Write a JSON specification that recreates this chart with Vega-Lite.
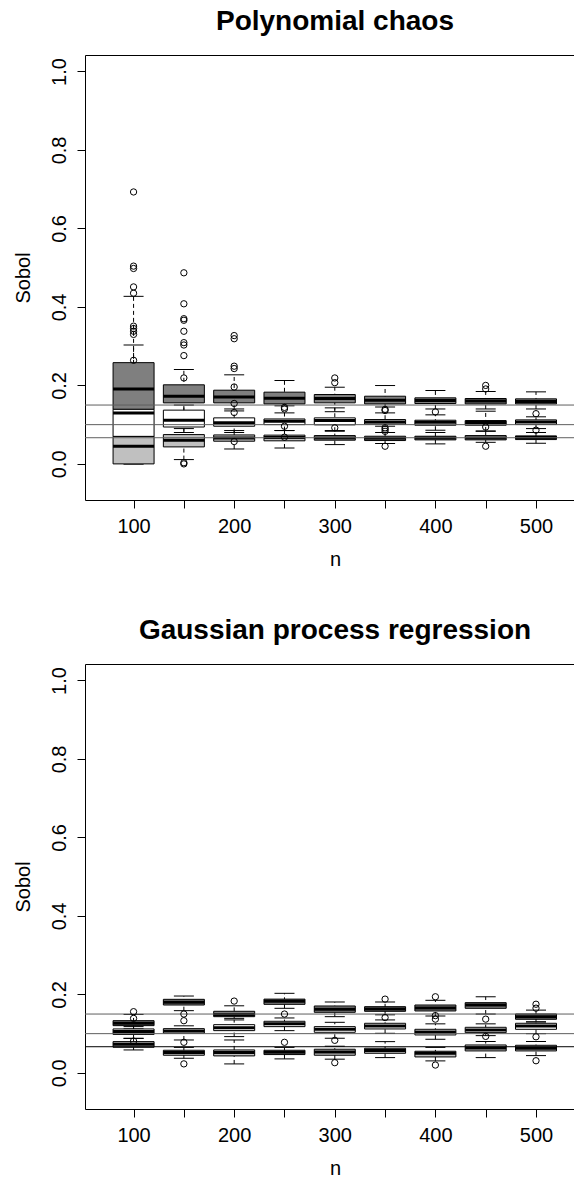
{
  "$schema": "https://vega.github.io/schema/vega-lite/v6.json",
  "padding": {"left": 13, "top": 8, "right": 0, "bottom": 0},
  "config": {
    "font": "Liberation Sans",
    "view": {"stroke": null},
    "axisY": {
      "format": ".1f",
      "labelAngle": 270,
      "labelAlign": "center",
      "labelBaseline": "alphabetic",
      "labelPadding": 12,
      "labelFontSize": 20,
      "labelColor": "black",
      "tickColor": "black",
      "tickSize": 8,
      "domainColor": "black",
      "grid": false,
      "titleFontSize": 20,
      "titleFontWeight": "normal",
      "titleColor": "black",
      "titleAngle": 270,
      "titleX": -62,
      "titleY": 222.5,
      "titleAlign": "center",
      "titleBaseline": "middle"
    },
    "axisX": {
      "labelFontSize": 20,
      "labelPadding": 8,
      "labelColor": "black",
      "labelFlush": false,
      "labelOverlap": false,
      "tickSize": 8,
      "tickColor": "black",
      "domainColor": "black",
      "grid": false,
      "titleFontSize": 20,
      "titleFontWeight": "normal",
      "titleColor": "black",
      "titleX": 250,
      "titleY": 65,
      "titleAlign": "center",
      "titleBaseline": "alphabetic"
    }
  },
  "datasets": {
    "ref": [
      {"g": "S1", "v": 0.15},
      {"g": "S2", "v": 0.1},
      {"g": "S3", "v": 0.0667}
    ],
    "pc_box": [
      {"n": 100, "g": "S1", "lo": 0.13, "q1": 0.139, "med": 0.191, "q3": 0.258, "hi": 0.427},
      {"n": 100, "g": "S2", "lo": 0.0, "q1": 0.07, "med": 0.13, "q3": 0.139, "hi": 0.303},
      {"n": 100, "g": "S3", "lo": 0.0, "q1": 0.0, "med": 0.045, "q3": 0.07, "hi": 0.07},
      {"n": 150, "g": "S1", "lo": 0.12, "q1": 0.1555, "med": 0.1725, "q3": 0.2015, "hi": 0.2406},
      {"n": 150, "g": "S2", "lo": 0.08, "q1": 0.094, "med": 0.111, "q3": 0.137, "hi": 0.15},
      {"n": 150, "g": "S3", "lo": 0.011, "q1": 0.0433, "med": 0.0604, "q3": 0.0747, "hi": 0.09},
      {"n": 200, "g": "S1", "lo": 0.14, "q1": 0.1555, "med": 0.1707, "q3": 0.1878, "hi": 0.227},
      {"n": 200, "g": "S2", "lo": 0.08, "q1": 0.096, "med": 0.1046, "q3": 0.1173, "hi": 0.135},
      {"n": 200, "g": "S3", "lo": 0.038, "q1": 0.0578, "med": 0.0663, "q3": 0.0738, "hi": 0.085},
      {"n": 250, "g": "S1", "lo": 0.148, "q1": 0.1529, "med": 0.1674, "q3": 0.1828, "hi": 0.2125},
      {"n": 250, "g": "S2", "lo": 0.085, "q1": 0.1001, "med": 0.1086, "q3": 0.1145, "hi": 0.13},
      {"n": 250, "g": "S3", "lo": 0.0405, "q1": 0.0588, "med": 0.0673, "q3": 0.0733, "hi": 0.085},
      {"n": 300, "g": "S1", "lo": 0.133, "q1": 0.1556, "med": 0.1666, "q3": 0.1768, "hi": 0.1954},
      {"n": 300, "g": "S2", "lo": 0.0832, "q1": 0.0995, "med": 0.1105, "q3": 0.1173, "hi": 0.1428},
      {"n": 300, "g": "S3", "lo": 0.0492, "q1": 0.0604, "med": 0.0663, "q3": 0.0722, "hi": 0.085},
      {"n": 350, "g": "S1", "lo": 0.145, "q1": 0.1529, "med": 0.1623, "q3": 0.1725, "hi": 0.1997},
      {"n": 350, "g": "S2", "lo": 0.096, "q1": 0.1012, "med": 0.107, "q3": 0.113, "hi": 0.13},
      {"n": 350, "g": "S3", "lo": 0.052, "q1": 0.0595, "med": 0.0654, "q3": 0.0705, "hi": 0.08},
      {"n": 400, "g": "S1", "lo": 0.14, "q1": 0.1538, "med": 0.1615, "q3": 0.1683, "hi": 0.187},
      {"n": 400, "g": "S2", "lo": 0.0858, "q1": 0.0985, "med": 0.1062, "q3": 0.1113, "hi": 0.125},
      {"n": 400, "g": "S3", "lo": 0.051, "q1": 0.0612, "med": 0.0663, "q3": 0.0705, "hi": 0.08},
      {"n": 450, "g": "S1", "lo": 0.14, "q1": 0.1529, "med": 0.1606, "q3": 0.1666, "hi": 0.1845},
      {"n": 450, "g": "S2", "lo": 0.084, "q1": 0.0985, "med": 0.1054, "q3": 0.1105, "hi": 0.1343},
      {"n": 450, "g": "S3", "lo": 0.055, "q1": 0.0612, "med": 0.0663, "q3": 0.0722, "hi": 0.083},
      {"n": 500, "g": "S1", "lo": 0.14, "q1": 0.1529, "med": 0.159, "q3": 0.1657, "hi": 0.1836},
      {"n": 500, "g": "S2", "lo": 0.09, "q1": 0.1003, "med": 0.107, "q3": 0.1122, "hi": 0.12},
      {"n": 500, "g": "S3", "lo": 0.0526, "q1": 0.062, "med": 0.0671, "q3": 0.0714, "hi": 0.08}
    ],
    "pc_out": [
      {"n": 100, "v": 0.693}, {"n": 100, "v": 0.504}, {"n": 100, "v": 0.498}, {"n": 100, "v": 0.451}, {"n": 100, "v": 0.435},
      {"n": 100, "v": 0.351}, {"n": 100, "v": 0.345}, {"n": 100, "v": 0.338}, {"n": 100, "v": 0.33}, {"n": 100, "v": 0.264},
      {"n": 150, "v": 0.487}, {"n": 150, "v": 0.408}, {"n": 150, "v": 0.37}, {"n": 150, "v": 0.366}, {"n": 150, "v": 0.338},
      {"n": 150, "v": 0.309}, {"n": 150, "v": 0.303}, {"n": 150, "v": 0.276}, {"n": 150, "v": 0.219}, {"n": 150, "v": 0.003}, {"n": 150, "v": 0.0},
      {"n": 200, "v": 0.327}, {"n": 200, "v": 0.319}, {"n": 200, "v": 0.249}, {"n": 200, "v": 0.243}, {"n": 200, "v": 0.196},
      {"n": 200, "v": 0.154}, {"n": 200, "v": 0.131}, {"n": 200, "v": 0.057},
      {"n": 250, "v": 0.144}, {"n": 250, "v": 0.14}, {"n": 250, "v": 0.096}, {"n": 250, "v": 0.068},
      {"n": 300, "v": 0.219}, {"n": 300, "v": 0.207}, {"n": 300, "v": 0.092},
      {"n": 350, "v": 0.139}, {"n": 350, "v": 0.136}, {"n": 350, "v": 0.092}, {"n": 350, "v": 0.088}, {"n": 350, "v": 0.083}, {"n": 350, "v": 0.045},
      {"n": 400, "v": 0.1325},
      {"n": 450, "v": 0.2}, {"n": 450, "v": 0.191}, {"n": 450, "v": 0.094}, {"n": 450, "v": 0.045},
      {"n": 500, "v": 0.128}, {"n": 500, "v": 0.086}
    ],
    "gp_box": [
      {"n": 100, "g": "S1", "lo": 0.112, "q1": 0.1204, "med": 0.1264, "q3": 0.1331, "hi": 0.149},
      {"n": 100, "g": "S2", "lo": 0.088, "q1": 0.098, "med": 0.1052, "q3": 0.112, "hi": 0.118},
      {"n": 100, "g": "S3", "lo": 0.0585, "q1": 0.0653, "med": 0.0729, "q3": 0.0797, "hi": 0.088},
      {"n": 150, "g": "S1", "lo": 0.1586, "q1": 0.173, "med": 0.18, "q3": 0.1875, "hi": 0.1959},
      {"n": 150, "g": "S2", "lo": 0.0839, "q1": 0.101, "med": 0.107, "q3": 0.1128, "hi": 0.12},
      {"n": 150, "g": "S3", "lo": 0.0373, "q1": 0.045, "med": 0.0517, "q3": 0.0577, "hi": 0.065},
      {"n": 200, "g": "S1", "lo": 0.139, "q1": 0.1433, "med": 0.149, "q3": 0.157, "hi": 0.171},
      {"n": 200, "g": "S2", "lo": 0.0925, "q1": 0.1077, "med": 0.1153, "q3": 0.1229, "hi": 0.135},
      {"n": 200, "g": "S3", "lo": 0.0229, "q1": 0.0433, "med": 0.0517, "q3": 0.0585, "hi": 0.0839},
      {"n": 250, "g": "S1", "lo": 0.1646, "q1": 0.1747, "med": 0.1824, "q3": 0.188, "hi": 0.2028},
      {"n": 250, "g": "S2", "lo": 0.1077, "q1": 0.1179, "med": 0.1255, "q3": 0.1315, "hi": 0.14},
      {"n": 250, "g": "S3", "lo": 0.0357, "q1": 0.0467, "med": 0.0526, "q3": 0.0577, "hi": 0.065},
      {"n": 300, "g": "S1", "lo": 0.1433, "q1": 0.1544, "med": 0.162, "q3": 0.1705, "hi": 0.1807},
      {"n": 300, "g": "S2", "lo": 0.0883, "q1": 0.1035, "med": 0.1111, "q3": 0.1179, "hi": 0.1289},
      {"n": 300, "g": "S3", "lo": 0.035, "q1": 0.045, "med": 0.0535, "q3": 0.0603, "hi": 0.068},
      {"n": 350, "g": "S1", "lo": 0.148, "q1": 0.1569, "med": 0.1628, "q3": 0.1688, "hi": 0.1807},
      {"n": 350, "g": "S2", "lo": 0.1009, "q1": 0.112, "med": 0.1196, "q3": 0.1264, "hi": 0.135},
      {"n": 350, "g": "S3", "lo": 0.039, "q1": 0.05, "med": 0.0569, "q3": 0.0628, "hi": 0.0797},
      {"n": 400, "g": "S1", "lo": 0.145, "q1": 0.1578, "med": 0.1654, "q3": 0.173, "hi": 0.185},
      {"n": 400, "g": "S2", "lo": 0.0857, "q1": 0.0967, "med": 0.1043, "q3": 0.1111, "hi": 0.125},
      {"n": 400, "g": "S3", "lo": 0.0306, "q1": 0.0407, "med": 0.0501, "q3": 0.0552, "hi": 0.065},
      {"n": 450, "g": "S1", "lo": 0.15, "q1": 0.1646, "med": 0.173, "q3": 0.179, "hi": 0.194},
      {"n": 450, "g": "S2", "lo": 0.095, "q1": 0.1026, "med": 0.1094, "q3": 0.1162, "hi": 0.125},
      {"n": 450, "g": "S3", "lo": 0.039, "q1": 0.056, "med": 0.0636, "q3": 0.0712, "hi": 0.08},
      {"n": 500, "g": "S1", "lo": 0.13, "q1": 0.1366, "med": 0.1434, "q3": 0.1501, "hi": 0.16},
      {"n": 500, "g": "S2", "lo": 0.1, "q1": 0.1111, "med": 0.1196, "q3": 0.1264, "hi": 0.13},
      {"n": 500, "g": "S3", "lo": 0.0441, "q1": 0.056, "med": 0.0628, "q3": 0.0704, "hi": 0.08}
    ],
    "gp_out": [
      {"n": 100, "v": 0.156}, {"n": 100, "v": 0.139}, {"n": 100, "v": 0.081},
      {"n": 150, "v": 0.15}, {"n": 150, "v": 0.133}, {"n": 150, "v": 0.078}, {"n": 150, "v": 0.023},
      {"n": 200, "v": 0.183},
      {"n": 250, "v": 0.15}, {"n": 250, "v": 0.078},
      {"n": 300, "v": 0.083}, {"n": 300, "v": 0.026},
      {"n": 350, "v": 0.188}, {"n": 350, "v": 0.141},
      {"n": 400, "v": 0.194}, {"n": 400, "v": 0.146}, {"n": 400, "v": 0.137}, {"n": 400, "v": 0.02},
      {"n": 450, "v": 0.137}, {"n": 450, "v": 0.093},
      {"n": 500, "v": 0.175}, {"n": 500, "v": 0.165}, {"n": 500, "v": 0.092}, {"n": 500, "v": 0.031}
    ]
  },
  "spacing": 48,
  "resolve": {"scale": {"stroke": "independent", "fill": "independent"}},
  "vconcat": [
    {
      "title": {"text": "Polynomial chaos", "fontSize": 28, "fontWeight": "bold", "color": "black", "baseline": "alphabetic", "offset": -3, "dx": 5.5, "anchor": "middle"},
      "width": 489,
      "height": 445,
      "resolve": {"axis": {"x": "independent"}},
      "layer": [
        {
          "data": {"name": "pc_box"},
          "mark": {"type": "rule", "color": "black", "strokeWidth": 1, "strokeDash": [4, 3]},
          "encoding": {
            "x": {"field": "n", "type": "quantitative", "scale": {"domain": [56.7, 532.8], "nice": false, "zero": false}, "axis": {"orient": "bottom", "values": [100, 150, 200, 250, 300, 350, 400, 450, 500], "labelExpr": "datum.value % 100 === 0 ? datum.label : ''", "format": "d", "title": "n"}},
            "y": {"field": "lo", "type": "quantitative", "scale": {"domain": [-0.092, 1.042], "nice": false, "zero": false}, "title": "Sobol", "axis": {"values": [0, 0.2, 0.4, 0.6, 0.8, 1.0]}},
            "y2": {"field": "hi"}
          }
        },
        {
          "data": {"name": "pc_box"},
          "mark": {"type": "tick", "orient": "horizontal", "size": 20, "thickness": 1, "color": "black", "opacity": 1},
          "encoding": {
            "x": {"field": "n", "type": "quantitative", "axis": null},
            "y": {"field": "lo", "type": "quantitative", "scale": {"domain": [-0.092, 1.042], "nice": false, "zero": false}, "title": "Sobol", "axis": {"values": [0, 0.2, 0.4, 0.6, 0.8, 1.0]}}
          }
        },
        {
          "data": {"name": "pc_box"},
          "mark": {"type": "tick", "orient": "horizontal", "size": 20, "thickness": 1, "color": "black", "opacity": 1},
          "encoding": {
            "x": {"field": "n", "type": "quantitative", "axis": null},
            "y": {"field": "hi", "type": "quantitative", "scale": {"domain": [-0.092, 1.042], "nice": false, "zero": false}, "title": "Sobol", "axis": {"values": [0, 0.2, 0.4, 0.6, 0.8, 1.0]}}
          }
        },
        {
          "data": {"name": "pc_box"},
          "mark": {"type": "bar", "size": 41, "stroke": "black", "strokeWidth": 1, "opacity": 1},
          "encoding": {
            "x": {"field": "n", "type": "quantitative", "axis": null},
            "y": {"field": "q1", "type": "quantitative", "scale": {"domain": [-0.092, 1.042], "nice": false, "zero": false}, "title": "Sobol", "axis": {"values": [0, 0.2, 0.4, 0.6, 0.8, 1.0]}},
            "y2": {"field": "q3"},
            "fill": {"field": "g", "type": "nominal", "scale": {"domain": ["S1", "S2", "S3"], "range": ["#7f7f7f", "#ffffff", "#c0c0c0"]}, "legend": null}
          }
        },
        {
          "data": {"name": "pc_box"},
          "mark": {"type": "tick", "orient": "horizontal", "size": 41, "thickness": 3, "color": "black", "opacity": 1},
          "encoding": {
            "x": {"field": "n", "type": "quantitative", "axis": null},
            "y": {"field": "med", "type": "quantitative", "scale": {"domain": [-0.092, 1.042], "nice": false, "zero": false}, "title": "Sobol", "axis": {"values": [0, 0.2, 0.4, 0.6, 0.8, 1.0]}}
          }
        },
        {
          "data": {"name": "ref"},
          "mark": {"type": "rule", "strokeWidth": 1},
          "encoding": {
            "y": {"field": "v", "type": "quantitative", "scale": {"domain": [-0.092, 1.042], "nice": false, "zero": false}, "title": "Sobol", "axis": {"values": [0, 0.2, 0.4, 0.6, 0.8, 1.0]}},
            "stroke": {"field": "g", "type": "nominal", "scale": {"domain": ["S1", "S2", "S3"], "range": ["#5f5f5f", "#5f5f5f", "#5f5f5f"]}, "legend": null}
          }
        },
        {
          "data": {"name": "pc_out"},
          "mark": {"type": "point", "shape": "circle", "filled": false, "size": 40, "color": "black", "strokeWidth": 1, "opacity": 1},
          "encoding": {
            "x": {"field": "n", "type": "quantitative", "axis": {"orient": "top", "labels": false, "ticks": false, "title": null, "domain": true, "minExtent": 0, "maxExtent": 0, "offset": 0}},
            "y": {"field": "v", "type": "quantitative", "scale": {"domain": [-0.092, 1.042], "nice": false, "zero": false}, "title": "Sobol", "axis": {"values": [0, 0.2, 0.4, 0.6, 0.8, 1.0]}}
          }
        }
      ]
    },
    {
      "title": {"text": "Gaussian process regression", "fontSize": 28, "fontWeight": "bold", "color": "black", "baseline": "alphabetic", "offset": -3, "dx": 5.5, "anchor": "middle"},
      "width": 489,
      "height": 445,
      "resolve": {"axis": {"x": "independent"}},
      "layer": [
        {
          "data": {"name": "gp_box"},
          "mark": {"type": "rule", "color": "black", "strokeWidth": 1, "strokeDash": [4, 3]},
          "encoding": {
            "x": {"field": "n", "type": "quantitative", "scale": {"domain": [56.7, 532.8], "nice": false, "zero": false}, "axis": {"orient": "bottom", "values": [100, 150, 200, 250, 300, 350, 400, 450, 500], "labelExpr": "datum.value % 100 === 0 ? datum.label : ''", "format": "d", "title": "n"}},
            "y": {"field": "lo", "type": "quantitative", "scale": {"domain": [-0.092, 1.042], "nice": false, "zero": false}, "title": "Sobol", "axis": {"values": [0, 0.2, 0.4, 0.6, 0.8, 1.0]}},
            "y2": {"field": "hi"}
          }
        },
        {
          "data": {"name": "gp_box"},
          "mark": {"type": "tick", "orient": "horizontal", "size": 20, "thickness": 1, "color": "black", "opacity": 1},
          "encoding": {
            "x": {"field": "n", "type": "quantitative", "axis": null},
            "y": {"field": "lo", "type": "quantitative", "scale": {"domain": [-0.092, 1.042], "nice": false, "zero": false}, "title": "Sobol", "axis": {"values": [0, 0.2, 0.4, 0.6, 0.8, 1.0]}}
          }
        },
        {
          "data": {"name": "gp_box"},
          "mark": {"type": "tick", "orient": "horizontal", "size": 20, "thickness": 1, "color": "black", "opacity": 1},
          "encoding": {
            "x": {"field": "n", "type": "quantitative", "axis": null},
            "y": {"field": "hi", "type": "quantitative", "scale": {"domain": [-0.092, 1.042], "nice": false, "zero": false}, "title": "Sobol", "axis": {"values": [0, 0.2, 0.4, 0.6, 0.8, 1.0]}}
          }
        },
        {
          "data": {"name": "gp_box"},
          "mark": {"type": "bar", "size": 41, "stroke": "black", "strokeWidth": 1, "opacity": 1},
          "encoding": {
            "x": {"field": "n", "type": "quantitative", "axis": null},
            "y": {"field": "q1", "type": "quantitative", "scale": {"domain": [-0.092, 1.042], "nice": false, "zero": false}, "title": "Sobol", "axis": {"values": [0, 0.2, 0.4, 0.6, 0.8, 1.0]}},
            "y2": {"field": "q3"},
            "fill": {"field": "g", "type": "nominal", "scale": {"domain": ["S1", "S2", "S3"], "range": ["#7f7f7f", "#ffffff", "#c0c0c0"]}, "legend": null}
          }
        },
        {
          "data": {"name": "gp_box"},
          "mark": {"type": "tick", "orient": "horizontal", "size": 41, "thickness": 3, "color": "black", "opacity": 1},
          "encoding": {
            "x": {"field": "n", "type": "quantitative", "axis": null},
            "y": {"field": "med", "type": "quantitative", "scale": {"domain": [-0.092, 1.042], "nice": false, "zero": false}, "title": "Sobol", "axis": {"values": [0, 0.2, 0.4, 0.6, 0.8, 1.0]}}
          }
        },
        {
          "data": {"name": "ref"},
          "mark": {"type": "rule", "strokeWidth": 1},
          "encoding": {
            "y": {"field": "v", "type": "quantitative", "scale": {"domain": [-0.092, 1.042], "nice": false, "zero": false}, "title": "Sobol", "axis": {"values": [0, 0.2, 0.4, 0.6, 0.8, 1.0]}},
            "stroke": {"field": "g", "type": "nominal", "scale": {"domain": ["S1", "S2", "S3"], "range": ["#5f5f5f", "#5f5f5f", "#000000"]}, "legend": null}
          }
        },
        {
          "data": {"name": "gp_out"},
          "mark": {"type": "point", "shape": "circle", "filled": false, "size": 40, "color": "black", "strokeWidth": 1, "opacity": 1},
          "encoding": {
            "x": {"field": "n", "type": "quantitative", "axis": {"orient": "top", "labels": false, "ticks": false, "title": null, "domain": true, "minExtent": 0, "maxExtent": 0, "offset": 0}},
            "y": {"field": "v", "type": "quantitative", "scale": {"domain": [-0.092, 1.042], "nice": false, "zero": false}, "title": "Sobol", "axis": {"values": [0, 0.2, 0.4, 0.6, 0.8, 1.0]}}
          }
        }
      ]
    }
  ]
}
